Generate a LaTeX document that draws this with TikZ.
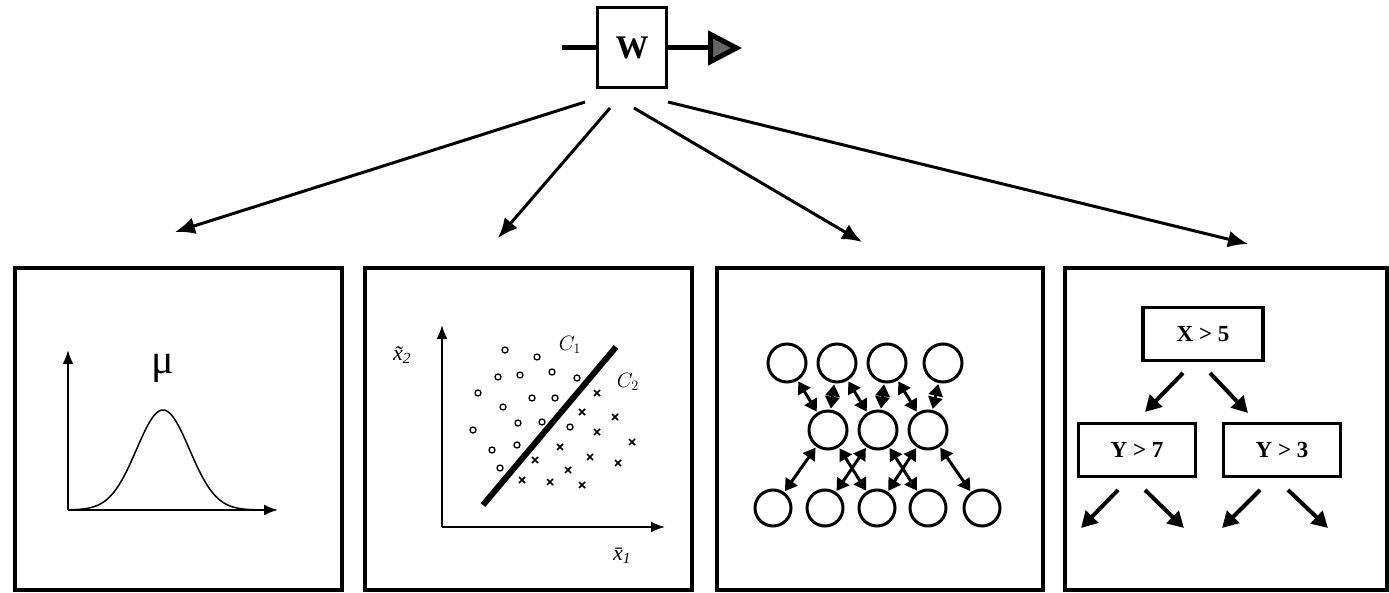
\documentclass[tikz,border=0pt]{standalone}
\usepackage{fontspec}
\setmainfont{Liberation Serif}
\usetikzlibrary{arrows.meta}
\begin{document}
\begin{tikzpicture}[x=1pt,y=-1pt,
  panel/.style={draw, line width=4pt, minimum width=#1, minimum height=322pt, inner sep=0pt},
  mainarrow/.style={line width=3pt, -{Latex[length=20pt,width=17pt]}},
  axis/.style={line width=2pt, -{Latex[length=14pt,width=11pt]}},
  treebox/.style={draw, line width=3.5pt, minimum width=#1, minimum height=53pt, inner sep=0pt, font=\fontsize{23}{23}\selectfont\bfseries},
  treearrow/.style={line width=4pt, -{Triangle[length=16pt,width=17pt]}},
  neuron/.style={draw, circle, line width=3pt, minimum size=38pt, inner sep=0pt},
  nnedge/.style={line width=3pt, {Triangle[length=12pt,width=14pt]}-{Triangle[length=12pt,width=14pt]}, shorten <=1pt, shorten >=1pt},
  dot/.style={draw, circle, line width=1.3pt, minimum size=6pt, inner sep=0pt},
  crossmark/.style={line width=1.6pt},
  axlabel/.style={font=\fontsize{22}{22}\selectfont\itshape}
]
\useasboundingbox (0,0) rectangle (1389,593);

% ---- W block ----
\node[draw, line width=3pt, minimum width=69pt, minimum height=80pt, inner sep=0pt,
      font=\fontsize{33}{33}\selectfont\bfseries] (W) at (632,48) {W};
\coordinate (win) at (562,48);
\coordinate (wout) at (742,48);
\draw[line width=5pt] (win) -- (W.west);
\draw[line width=5pt, -{Triangle[length=34pt,width=34pt,fill=black!60]}] (W.east) -- (wout);

% ---- arrows to panels ----
\coordinate (s1) at (585,102);
\coordinate (s2) at (610,108);
\coordinate (s3) at (634,108);
\coordinate (s4) at (668,102);
\coordinate (e1) at (175,232);
\coordinate (e2) at (498,238);
\coordinate (e3) at (862,242);
\coordinate (e4) at (1248,244);
\draw[mainarrow] (s1) -- (e1);
\draw[mainarrow] (s2) -- (e2);
\draw[mainarrow] (s3) -- (e3);
\draw[mainarrow] (s4) -- (e4);

% ---- panels ----
\node[panel=327pt] (p1) at (178.5,429) {};
\node[panel=327pt] (p2) at (528.5,429) {};
\node[panel=326pt] (p3) at (880,429) {};
\node[panel=322pt] (p4) at (1226,429) {};

% ---- panel 1: distribution ----
\coordinate (o1) at (68,510);
\coordinate (y1) at (68,350);
\coordinate (x1) at (278,510);
\draw[axis] (o1) -- (y1);
\draw[axis] (o1) -- (x1);
\draw[line width=1.5pt] plot[domain=68:258, samples=120, smooth] (\x, {510-100*exp(-((\x-163)^2)/1400)});
\node[font=\fontsize{42}{42}\selectfont] (mu) at (163,368) {μ};

% ---- panel 2: classifier ----
\coordinate (o2) at (442,527);
\coordinate (y2) at (442,325);
\coordinate (x2) at (665,527);
\draw[axis] (o2) -- (y2);
\draw[axis] (o2) -- (x2);
\coordinate (la) at (483,505);
\coordinate (lb) at (616,347);
\draw[line width=6pt] (la) -- (lb);
\node[axlabel] (lx2) at (402,355) {\~x\textsubscript{2}};
\node[axlabel] (lx1) at (622,556) {\=x\textsubscript{1}};
\node[font=\fontsize{21}{21}\selectfont] (c1) at (570,345) {$C_1$};
\node[font=\fontsize{21}{21}\selectfont] (c2) at (628,382) {$C_2$};
\foreach \px/\py [count=\i] in {505/350, 537/357, 498/377, 520/375, 552/372, 577/378, 478/393, 503/407, 532/398, 555/398, 518/423, 542/422, 473/430, 492/450, 517/445, 500/468, 570/427}
  \node[dot] (d\i) at (\px,\py) {};
\foreach \px/\py in {597/393, 582/412, 615/417, 597/432, 632/442, 560/447, 535/460, 590/457, 618/463, 568/470, 522/480, 550/482, 582/485}
  \draw[crossmark] (\px-3,\py-3) -- (\px+3,\py+3) (\px-3,\py+3) -- (\px+3,\py-3);

% ---- panel 3: neural network ----
\node[neuron] (t1) at (787,363) {};
\node[neuron] (t2) at (837,363) {};
\node[neuron] (t3) at (887,363) {};
\node[neuron] (t4) at (943,363) {};
\node[neuron] (m1) at (828,430) {};
\node[neuron] (m2) at (878,430) {};
\node[neuron] (m3) at (928,430) {};
\node[neuron, minimum size=36pt] (b1) at (773,508) {};
\node[neuron, minimum size=36pt] (b2) at (825,508) {};
\node[neuron, minimum size=36pt] (b3) at (877,508) {};
\node[neuron, minimum size=36pt] (b4) at (928,508) {};
\node[neuron, minimum size=36pt] (b5) at (982,508) {};
\foreach \a/\b in {t1/m1, t2/m1, t2/m2, t3/m2, t3/m3, t4/m3}
  \draw[nnedge] (\a) -- (\b);
\foreach \a/\b in {b1/m1, b3/m1, b2/m2, b4/m2, b3/m3, b5/m3}
  \draw[nnedge] (\a) -- (\b);

% ---- panel 4: decision tree ----
\node[treebox=120pt] (tx) at (1203,334) {X > 5};
\node[treebox=117pt] (ty7) at (1137,450) {Y > 7};
\node[treebox=117pt] (ty3) at (1282,450) {Y > 3};
\coordinate (ta1) at (1183,373);
\coordinate (ta2) at (1210,373);
\coordinate (tb1) at (1145,412);
\coordinate (tb2) at (1248,413);
\draw[treearrow] (ta1) -- (tb1);
\draw[treearrow] (ta2) -- (tb2);
\coordinate (u1) at (1118,490);
\coordinate (u2) at (1145,490);
\coordinate (u3) at (1260,490);
\coordinate (u4) at (1288,490);
\coordinate (v1) at (1081,528);
\coordinate (v2) at (1184,528);
\coordinate (v3) at (1222,528);
\coordinate (v4) at (1328,528);
\draw[treearrow] (u1) -- (v1);
\draw[treearrow] (u2) -- (v2);
\draw[treearrow] (u3) -- (v3);
\draw[treearrow] (u4) -- (v4);
\end{tikzpicture}
\end{document}
